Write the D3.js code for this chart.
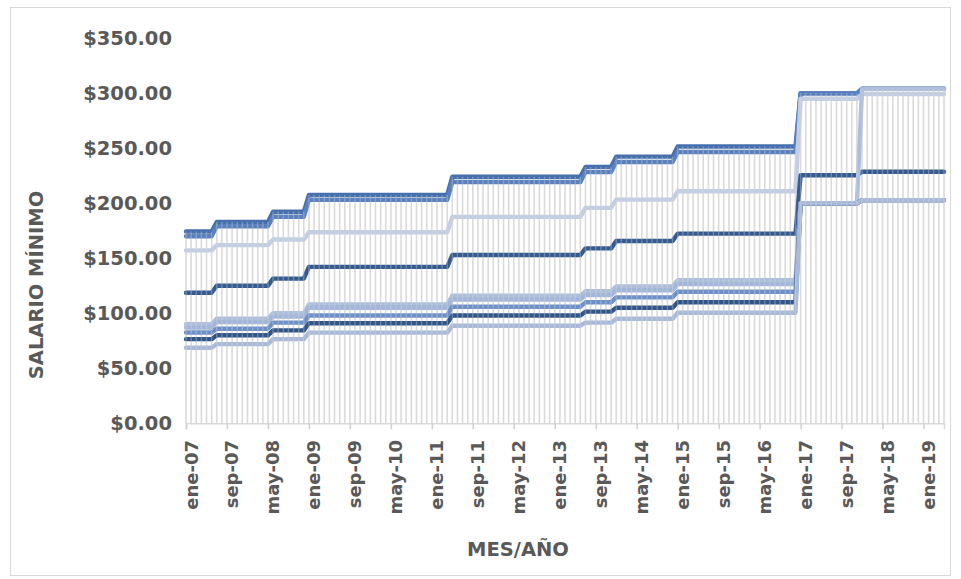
<!DOCTYPE html>
<html><head><meta charset="utf-8">
<script src="https://cdn.jsdelivr.net/npm/d3@7"></script>
<style>
body{margin:0;background:#fff}
svg{display:block}
text{font-family:"DejaVu Sans",sans-serif;font-weight:bold;fill:#595959}
</style>
</head><body>
<svg id="chart" width="961" height="579"></svg>
<script>
// ---- data ----
const monthAbbr = ["ene","feb","mar","abr","may","jun","jul","ago","sep","oct","nov","dic"];
const monthCount = 149; // ene-07 .. may-19
const periodStarts = ["ene-07","jul-07","jun-08","ene-09","may-11","jul-13","ene-14","ene-15","ene-17","ene-18"];

const comercio   = [174.3,183.0,192.3,207.6,224.1,233.1,242.4,251.7,300.0,304.2];
const industria  = [170.1,179.1,187.8,203.1,219.3,228.5,237.6,246.6,300.0,304.2];
const maquila    = [157.2,162.0,167.1,173.7,187.7,195.8,203.3,210.9,295.0,299.3];
const serie4     = [118.7,125.0,131.5,142.2,153.0,159.0,165.7,172.4,225.5,228.7];
const serie5     = [ 90.0, 95.0,100.0,108.0,116.0,120.0,124.5,130.0,200.0,304.2];
const serie6     = [ 87.0, 92.0, 97.0,105.0,112.5,116.5,121.0,126.5,200.0,202.9];
const serie7     = [ 82.5, 86.0, 91.5, 98.0,106.0,110.0,114.5,119.6,200.0,202.9];
const serie8     = [ 76.5, 80.0, 84.5, 91.0, 98.0,101.5,105.0,110.0,200.0,202.9];
const serie9     = [ 68.7, 72.0, 76.5, 82.4, 88.7, 91.5, 95.0,100.5,200.0,202.9];

const seriesList = [comercio,industria,maquila,serie4,serie5,serie6,serie7,serie8,serie9];
const seriesColors = ["#4670ad","#5a80bd","#c3cee3","#355a90","#aebfdc","#a2b6d9","#6e90c9","#315588","#a9bad9"];

const yTicks = [0,50,100,150,200,250,300,350];
const xTickLabels = ["ene-07","sep-07","may-08","ene-09","sep-09","may-10","ene-11","sep-11","may-12",
  "ene-13","sep-13","may-14","ene-15","sep-15","may-16","ene-17","sep-17","may-18","ene-19"];

// ---- build monthly categories ----
const months = d3.range(monthCount).map(i =>
  monthAbbr[i % 12] + "-" + String(7 + Math.floor(i / 12)).padStart(2, "0"));
const startIdx = periodStarts.map(p => months.indexOf(p));
function expand(vals){
  return months.map((m, i) => {
    let k = 0;
    for (let j = 0; j < startIdx.length; j++) if (i >= startIdx[j]) k = j;
    return vals[k];
  });
}
const monthly = seriesList.map(expand);

// ---- scales ----
const svg = d3.select("#chart");
const x = d3.scalePoint().domain(months).range([186, 944]).padding(0);
const y = d3.scaleLinear().domain([0, 350]).range([423.3, 38.3]);

// chart border
svg.append("rect").attr("x",10.5).attr("y",7.5).attr("width",940).attr("height",568)
  .attr("fill","none").attr("stroke","#d9d9d9").attr("stroke-width",1);

const maxAt = months.map((m,i) => d3.max(monthly, s => s[i]));

// drop lines (behind)
svg.append("g").selectAll("line").data(months).join("line")
  .attr("x1", d => x(d)).attr("x2", d => x(d))
  .attr("y1", y(0)).attr("y2", (d,i) => y(maxAt[i]))
  .attr("stroke","#dcdcdc").attr("stroke-width",1.5);

// series lines
const line = d3.line().x((d,i) => x(months[i])).y(d => y(d));
svg.append("g").selectAll("path").data(monthly).join("path")
  .attr("d", line).attr("fill","none")
  .attr("stroke", (d,i) => seriesColors[i]).attr("stroke-width",4.4)
  .attr("stroke-linejoin","round").attr("stroke-linecap","round");

// drop lines overlay
svg.append("g").selectAll("line").data(months).join("line")
  .attr("x1", d => x(d)).attr("x2", d => x(d))
  .attr("y1", y(0)).attr("y2", (d,i) => y(maxAt[i]))
  .attr("stroke","#d9d9d9").attr("stroke-width",1.4).attr("opacity",0.35);

// x axis
const xAxis = d3.axisBottom(x).tickValues(xTickLabels).tickSize(6).tickFormat("");
const gx = svg.append("g").attr("transform", `translate(0,${y(0)})`).call(xAxis);
gx.select(".domain").attr("stroke","#d9d9d9").attr("stroke-width",1.5);
gx.selectAll(".tick line").attr("stroke","#d0d0d0").attr("stroke-width",1.5);

svg.append("g").selectAll("text").data(xTickLabels).join("text")
  .attr("transform", d => `translate(${x(d)},440) rotate(-90)`)
  .attr("text-anchor","end").attr("dy", 11.5)
  .style("font-size","18px").text(d => d);

// y axis labels
const fmt = d => "$" + d3.format(".2f")(d);
svg.append("g").selectAll("text").data(yTicks).join("text")
  .attr("x",172).attr("y", d => y(d)).attr("dy","0.36em")
  .attr("text-anchor","end").style("font-size","19.5px").text(fmt);

// axis titles
svg.append("text").attr("transform","translate(36,285) rotate(-90)")
  .attr("text-anchor","middle").attr("dy","0.36em").style("font-size","19.5px").text("SALARIO MÍNIMO");
svg.append("text").attr("x",518).attr("y",549).attr("dy","0.36em")
  .attr("text-anchor","middle").style("font-size","19.5px").text("MES/AÑO");
</script>
</body></html>
